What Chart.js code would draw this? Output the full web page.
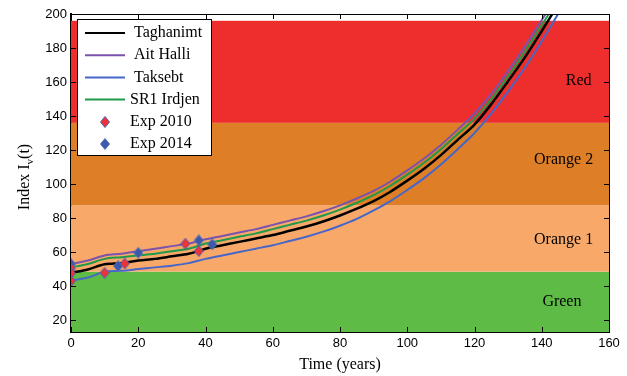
<!DOCTYPE html>
<html>
<head>
<meta charset="utf-8">
<script src="https://cdn.jsdelivr.net/npm/chart.js@4"></script>
<style>
 html,body{margin:0;padding:0;background:#fff;}
 #wrap{width:627px;height:376px;}
</style>
</head>
<body>
<div id="wrap"><canvas id="c"></canvas></div>
<script>
const years=[0,5,10,15,20,25,30,35,40,45,50,55,60,65,70,75,80,85,90,95,100,105,110,115,120,125,130,135,140,145];
const taghanimt=[47.8,49.8,52.8,53.5,55,56,57.5,59,62,64,66,68,70,72.5,75,78,81.5,85.5,90,95.5,102,109,117,126,135,147,160.5,174.5,190,206];
const aitHalli=[53,55,58,59,60.5,62,63.5,65,67.5,69.5,71.5,73.5,76,78.5,81,84,87.5,91.5,96,101.5,108,115,123,132,141.5,153,166.5,181,196.5,212];
const taksebt=[43.3,45,48.5,49,50,51,52,53.5,56,58,60,62,64,66.5,69,72,75.5,79.5,84.5,90,96.5,103.5,111.5,120.5,130,141.5,154.5,168.5,184,200.5];
const sr1Irdjen=[51,53,56,57,58,59,60.5,62,65,67,69,71,73.5,76,78.5,81.5,85,89,93.5,99,105.5,112.5,120.5,129.5,138.5,150,163.5,178,193.5,209];

const exp2010T=[0,0,0,10,16,34,38];
const exp2010V=[50.4,47.5,43,47.8,53.3,64.9,60.6];
const exp2014T=[0,14,20,38,42];
const exp2014V=[53,51.8,59.6,66.9,64.5];

const bandNames=['Green','Orange 1','Orange 2','Red'];
const bandLimits=[13,48.5,87.5,136,196];
const bandColors=['#5dbb46','#f8a96a','#de7f27','#ee2e2d'];

const xTicks=[0,20,40,60,80,100,120,140,160];
const yTicks=[20,40,60,80,100,120,140,160,180,200];

const pts=(xs,ys)=>xs.map((x,i)=>({x,y:ys[i]}));
const serif='"Liberation Serif","Times New Roman",serif';
const sans='"Liberation Sans",Arial,sans-serif';

function diamond(fill,edge){
 const c=document.createElement('canvas');
 c.width=10;c.height=12;
 const g=c.getContext('2d');
 g.fillStyle=fill;g.strokeStyle=edge;g.lineWidth=1;
 g.beginPath();
 g.moveTo(5,0.5);g.lineTo(9.5,6);g.lineTo(5,11.5);g.lineTo(0.5,6);g.closePath();
 g.fill();g.stroke();
 return c;
}

const bands={
 id:'bands',
 beforeDatasetsDraw(chart){
  const {ctx,chartArea:a,scales:{x,y}}=chart;
  ctx.save();
  bandNames.forEach((n,i)=>{
   const top=y.getPixelForValue(bandLimits[i+1]);
   const bot=y.getPixelForValue(bandLimits[i]);
   ctx.fillStyle=bandColors[i];
   ctx.fillRect(a.left,top,a.right-a.left,bot-top);
  });
  const labelPos={'Green':[146,30.5],'Orange 1':[146.5,67],'Orange 2':[146.5,114],'Red':[151,160.5]};
  ctx.fillStyle='#000';
  ctx.font='16px '+serif;
  ctx.textAlign='center';
  ctx.textBaseline='middle';
  bandNames.forEach(n=>{
   const p=labelPos[n];
   ctx.fillText(n,x.getPixelForValue(p[0]),y.getPixelForValue(p[1]));
  });
  ctx.restore();
 },
 afterDraw(chart){
  const {ctx,chartArea:a,scales:{x,y}}=chart;
  ctx.save();
  ctx.strokeStyle='#000';
  ctx.lineWidth=1;
  ctx.beginPath();
  ctx.moveTo(a.left,a.top+0.5);ctx.lineTo(a.right+0.5,a.top+0.5);
  ctx.moveTo(a.right+0.5,a.top);ctx.lineTo(a.right+0.5,a.bottom);
  xTicks.forEach(t=>{
   const px=Math.round(x.getPixelForValue(t))+0.5;
   ctx.moveTo(px,a.bottom);ctx.lineTo(px,a.bottom-5);
   ctx.moveTo(px,a.top);ctx.lineTo(px,a.top+5);
  });
  yTicks.forEach(v=>{
   const py=Math.round(y.getPixelForValue(v))+0.5;
   ctx.moveTo(a.left,py);ctx.lineTo(a.left+5,py);
   ctx.moveTo(a.right,py);ctx.lineTo(a.right-5,py);
  });
  ctx.stroke();

  // legend box
  const lx=77,ly=19,lw=134,lh=136;
  ctx.fillStyle='#fff';
  ctx.fillRect(lx,ly,lw,lh);
  ctx.strokeRect(lx+0.5,ly+0.5,lw,lh);
  ctx.font='16px '+serif;
  ctx.textAlign='left';
  ctx.textBaseline='middle';
  chart.data.datasets.forEach((ds,k)=>{
   const cy=33+k*22.2;
   if(ds.showLine===false){
    const img=ds.pointStyle;
    ctx.drawImage(img,105-img.width/2,Math.round(cy-img.height/2));
   }else{
    ctx.strokeStyle=ds.borderColor;
    ctx.lineWidth=2;
    ctx.beginPath();ctx.moveTo(85,cy);ctx.lineTo(125,cy);ctx.stroke();
   }
   ctx.fillStyle='#000';
   ctx.fillText(ds.label,k<3?134:130,cy);
  });

  // axis titles
  ctx.fillStyle='#000';
  ctx.textAlign='center';
  ctx.textBaseline='middle';
  ctx.font='16px '+serif;
  ctx.fillText('Time (years)',(a.left+a.right)/2,365);
  ctx.save();
  ctx.translate(25,(a.top+a.bottom)/2+4);
  ctx.rotate(-Math.PI/2);
  ctx.textAlign='left';
  const t1='Index I',t2='v',t3='(t)';
  const w1=ctx.measureText(t1).width;
  ctx.font='11px '+serif;
  const w2=ctx.measureText(t2).width;
  ctx.font='16px '+serif;
  const w3=ctx.measureText(t3).width;
  const start=-(w1+w2+w3)/2;
  ctx.fillText(t1,start,0);
  ctx.font='11px '+serif;
  ctx.fillText(t2,start+w1,5);
  ctx.font='16px '+serif;
  ctx.fillText(t3,start+w1+w2,0);
  ctx.restore();
  ctx.restore();
 }
};

const lineDs=(label,vals,color,order,w)=>({
 label,data:pts(years,vals),borderColor:color,backgroundColor:color,
 borderWidth:w,pointRadius:0,tension:0.3,order
});
const expDs=(label,ts,vs,fill,edge)=>({
 label,data:pts(ts,vs),showLine:false,pointStyle:diamond(fill,edge),pointRadius:5,
 backgroundColor:fill,borderColor:edge,order:0
});

new Chart(document.getElementById('c'),{
 type:'line',
 data:{datasets:[
  lineDs('Taghanimt',taghanimt,'#000000',1,2.5),
  lineDs('Ait Halli',aitHalli,'#7b52ae',2,2),
  lineDs('Taksebt',taksebt,'#4666c8',2,2),
  lineDs('SR1 Irdjen',sr1Irdjen,'#1e9a48',2,2),
  expDs('Exp 2010',exp2010T,exp2010V,'#ee3338','#4a62b8'),
  expDs('Exp 2014',exp2014T,exp2014V,'#3d5aa8','#5570c0')
 ]},
 options:{
  responsive:true,maintainAspectRatio:false,animation:false,
  layout:{padding:{top:14,right:18,left:0,bottom:0}},
  plugins:{legend:{display:false},tooltip:{enabled:false}},
  scales:{
   x:{type:'linear',min:0,max:160,
    afterFit:s=>{s.height=44;},
    afterBuildTicks:s=>{s.ticks=xTicks.map(v=>({value:v}));},
    ticks:{color:'#000',font:{family:sans,size:13},padding:4,maxRotation:0},
    grid:{display:false,drawTicks:false},
    border:{display:true,color:'#000',width:2}},
   y:{type:'linear',min:13,max:200,
    afterFit:s=>{s.width=71;},
    afterBuildTicks:s=>{s.ticks=yTicks.map(v=>({value:v}));},
    ticks:{color:'#000',font:{family:sans,size:13},padding:4},
    grid:{display:false,drawTicks:false},
    border:{display:true,color:'#000',width:2}}
  }
 },
 plugins:[bands]
});
</script>
</body>
</html>
